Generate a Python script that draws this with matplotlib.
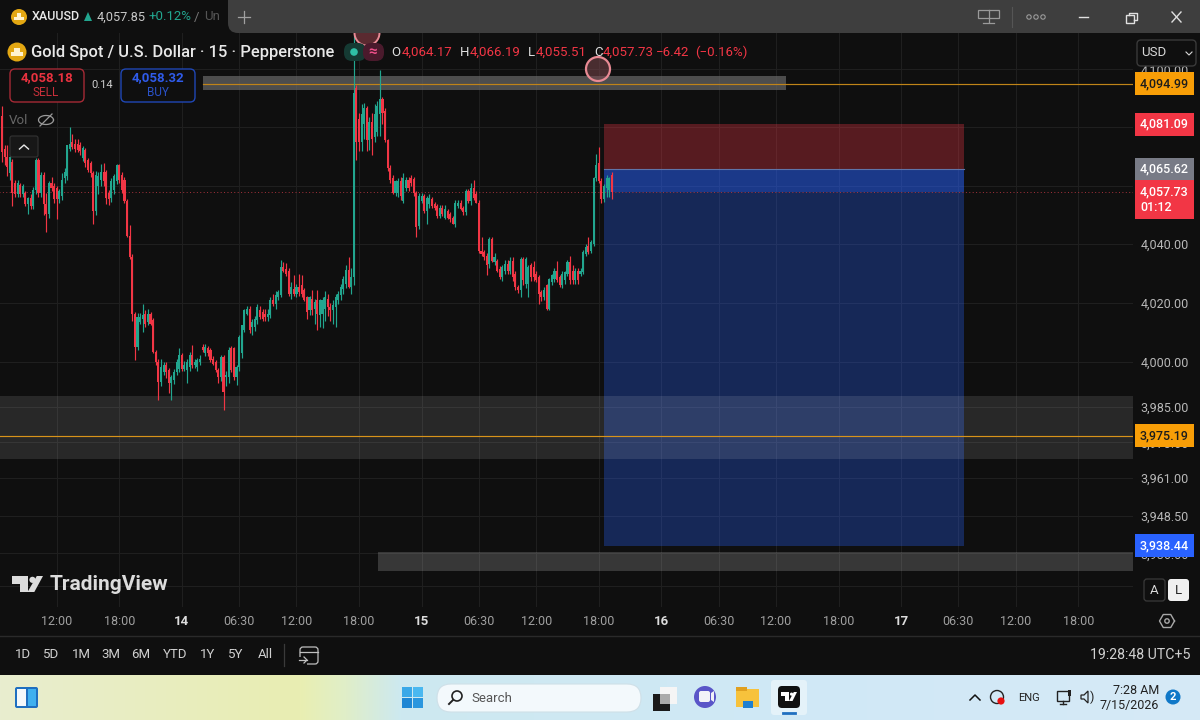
# === XAUUSD 15m TradingView screenshot, redrawn ===
import numpy as np
import matplotlib
matplotlib.use("Agg")
import matplotlib.pyplot as plt
from matplotlib.patches import Circle, FancyBboxPatch, Polygon, Rectangle
from matplotlib.ticker import NullFormatter, NullLocator

plt.rcParams["font.family"] = ["Roboto", "DejaVu Sans"]

# ----------------- DATA -----------------
opens = [
    4084.0, 4072.7, 4069.9, 4064.3, 4068.2, 4060.9, 4057.0, 4060.3, 4057.0, 4057.5,
    4053.6, 4055.8, 4053.0, 4058.6, 4068.8, 4057.5, 4063.7, 4053.6, 4050.2, 4060.9,
    4060.0, 4059.2, 4055.3, 4056.4, 4062.6, 4063.2, 4072.7, 4075.0, 4074.4, 4074.4,
    4073.9, 4069.3, 4072.2, 4068.8, 4067.7, 4064.3, 4051.3, 4059.8, 4062.0, 4064.8,
    4064.8, 4057.5, 4055.8, 4058.6, 4061.5, 4067.1, 4063.7, 4062.0, 4054.7, 4042.9,
    4035.6, 4016.4, 4005.2, 4013.6, 4014.7, 4016.4, 4013.6, 4016.4, 4014.2, 4003.5,
    4000.1, 3993.3, 3996.7, 3999.0, 3997.3, 3992.8, 3993.9, 3996.7, 3997.8, 4002.4,
    3997.8, 3997.3, 3998.4, 4002.4, 3999.0, 3998.4, 4000.1, 4005.2, 4003.0, 4004.6,
    4004.0, 4001.2, 4000.1, 3997.3, 3995.0, 4001.8, 3995.0, 3995.0, 4004.6, 4004.6,
    3995.0, 3998.4, 4002.9, 4010.8, 4016.4, 4018.1, 4011.9, 4011.9, 4014.2, 4017.5,
    4017.0, 4016.4, 4015.3, 4015.9, 4020.9, 4019.8, 4022.0, 4022.6, 4032.2, 4031.6,
    4031.0, 4023.2, 4024.9, 4023.2, 4025.4, 4026.0, 4024.3, 4022.0, 4017.5, 4021.5,
    4018.1, 4020.9, 4015.9, 4016.4, 4018.1, 4021.5, 4018.7, 4017.5, 4018.7, 4020.9,
    4022.6, 4024.9, 4026.6, 4031.3, 4025.4, 4028.8, 4093.6, 4082.9, 4075.0, 4081.2,
    4086.8, 4075.5, 4081.7, 4076.6, 4078.4, 4084.5, 4089.6, 4085.7, 4075.5, 4066.0,
    4062.6, 4057.5, 4057.5, 4061.5, 4054.7, 4059.2, 4062.0, 4062.6, 4062.4, 4057.5,
    4046.3, 4054.7, 4056.4, 4051.3, 4053.6, 4055.3, 4053.6, 4053.0, 4049.6, 4052.5,
    4049.0, 4051.3, 4050.2, 4049.0, 4046.8, 4053.0, 4054.2, 4052.5, 4050.8, 4058.1,
    4054.7, 4059.2, 4057.0, 4054.2, 4037.8, 4037.2, 4036.1, 4033.3, 4041.8, 4033.9,
    4034.4, 4031.6, 4028.8, 4031.0, 4033.3, 4031.0, 4034.4, 4029.9, 4025.4, 4024.3,
    4035.0, 4026.6, 4026.6, 4032.8, 4032.2, 4029.9, 4028.8, 4023.7, 4022.0, 4026.0,
    4018.1, 4027.1, 4028.2, 4031.0, 4028.8, 4026.0, 4027.7, 4029.9, 4033.9, 4031.0,
    4027.7, 4031.0, 4029.9, 4030.5, 4036.7, 4039.5, 4037.8, 4040.0, 4062.6, 4067.7,
    4061.5, 4055.3, 4059.2, 4058.6, 4063.7,
]
highs = [
    4087.4, 4073.9, 4073.9, 4071.0, 4069.0, 4062.0, 4062.0, 4061.0, 4060.5, 4058.0,
    4056.0, 4057.0, 4059.6, 4069.4, 4069.4, 4064.5, 4064.5, 4057.5, 4061.5, 4063.0,
    4061.0, 4060.0, 4059.0, 4064.3, 4066.0, 4074.0, 4080.0, 4077.8, 4076.0, 4076.0,
    4075.0, 4073.5, 4073.0, 4069.5, 4068.5, 4065.0, 4065.0, 4064.5, 4067.5, 4067.7,
    4065.5, 4058.5, 4062.5, 4064.0, 4067.5, 4067.5, 4064.5, 4063.0, 4055.5, 4046.5,
    4036.5, 4017.0, 4016.5, 4016.5, 4019.8, 4017.5, 4018.1, 4017.0, 4015.0, 4004.0,
    4001.0, 4001.2, 4000.0, 4000.0, 3998.0, 3995.5, 3997.5, 4001.0, 4004.6, 4003.0,
    4000.5, 4001.0, 4003.5, 4005.7, 4001.0, 4001.5, 4002.5, 4006.0, 4006.0, 4005.5,
    4004.6, 4002.0, 4000.7, 3998.0, 4002.5, 4002.5, 3997.0, 4005.0, 4005.5, 4005.0,
    3999.0, 4009.0, 4012.5, 4018.0, 4019.0, 4019.0, 4014.5, 4015.5, 4019.5, 4019.0,
    4018.0, 4018.0, 4018.0, 4022.0, 4023.0, 4024.0, 4024.5, 4034.5, 4034.0, 4033.5,
    4032.0, 4027.0, 4029.4, 4026.5, 4030.0, 4029.5, 4025.0, 4022.5, 4022.5, 4024.3,
    4021.5, 4024.3, 4021.5, 4022.0, 4024.0, 4023.0, 4020.0, 4021.0, 4023.0, 4024.0,
    4026.5, 4029.0, 4033.0, 4035.6, 4032.0, 4112.0, 4094.5, 4085.0, 4087.9, 4088.5,
    4087.5, 4083.5, 4085.0, 4087.9, 4089.0, 4099.7, 4090.5, 4086.5, 4076.0, 4067.0,
    4063.5, 4062.0, 4062.5, 4063.0, 4064.3, 4063.0, 4063.0, 4063.5, 4063.0, 4058.0,
    4057.5, 4057.5, 4057.0, 4056.5, 4057.0, 4056.0, 4054.5, 4053.6, 4053.5, 4053.5,
    4053.5, 4052.0, 4051.0, 4049.6, 4055.0, 4055.0, 4055.0, 4053.0, 4059.0, 4059.0,
    4060.9, 4062.0, 4058.0, 4055.0, 4042.3, 4038.0, 4037.0, 4042.5, 4042.5, 4037.0,
    4035.0, 4032.5, 4033.0, 4034.5, 4034.5, 4035.5, 4035.6, 4031.0, 4026.0, 4035.5,
    4035.5, 4035.5, 4033.0, 4033.5, 4034.4, 4031.0, 4029.5, 4024.5, 4025.5, 4026.5,
    4028.5, 4030.0, 4032.0, 4034.4, 4029.5, 4031.0, 4031.0, 4034.5, 4036.0, 4033.0,
    4032.0, 4032.0, 4032.0, 4038.0, 4040.0, 4042.3, 4041.5, 4063.0, 4071.0, 4073.3,
    4062.5, 4060.5, 4063.5, 4063.0, 4064.5,
]
lows = [
    4068.2, 4067.1, 4063.2, 4062.0, 4053.0, 4056.0, 4056.0, 4056.0, 4056.0, 4053.0,
    4050.2, 4052.0, 4052.0, 4057.0, 4056.0, 4056.0, 4050.0, 4044.0, 4049.0, 4058.0,
    4054.0, 4048.5, 4054.0, 4055.0, 4061.0, 4062.0, 4072.0, 4072.5, 4071.5, 4071.5,
    4070.5, 4068.5, 4066.5, 4064.5, 4063.0, 4046.8, 4050.0, 4057.0, 4060.0, 4060.0,
    4053.6, 4053.5, 4054.5, 4057.0, 4060.5, 4061.0, 4057.5, 4054.0, 4042.5, 4035.0,
    4014.0, 4000.7, 4004.0, 4013.0, 4010.0, 4012.0, 4012.5, 4012.5, 4003.0, 3999.0,
    3987.1, 3992.0, 3995.5, 3994.5, 3989.5, 3987.1, 3992.5, 3995.5, 3996.5, 3997.0,
    3997.0, 3993.0, 3997.0, 3998.0, 3998.0, 3997.0, 3999.0, 4003.5, 4002.0, 4002.0,
    4000.0, 3999.0, 3996.5, 3993.0, 3993.5, 3983.8, 3992.0, 3993.0, 3996.5, 3994.0,
    3992.2, 3997.0, 4001.5, 4010.0, 4016.0, 4009.8, 4009.0, 4010.5, 4013.0, 4014.5,
    4013.8, 4014.0, 4014.0, 4015.0, 4019.0, 4018.0, 4021.0, 4022.0, 4030.5, 4029.0,
    4022.5, 4021.5, 4022.5, 4022.0, 4022.5, 4022.0, 4020.5, 4014.7, 4016.0, 4016.0,
    4013.0, 4011.0, 4012.0, 4011.5, 4014.0, 4015.5, 4014.0, 4013.0, 4012.0, 4019.5,
    4021.0, 4023.0, 4025.0, 4025.0, 4023.0, 4026.0, 4068.8, 4072.0, 4072.0, 4076.0,
    4072.0, 4072.2, 4070.5, 4075.0, 4077.0, 4077.0, 4081.0, 4075.0, 4065.0, 4061.0,
    4057.0, 4056.5, 4056.0, 4055.0, 4054.0, 4058.0, 4058.0, 4060.0, 4056.5, 4042.3,
    4045.0, 4054.0, 4050.5, 4046.8, 4052.5, 4052.5, 4051.5, 4049.0, 4049.0, 4049.5,
    4048.5, 4048.5, 4047.5, 4046.8, 4046.0, 4052.5, 4051.5, 4050.0, 4050.0, 4054.0,
    4053.5, 4055.0, 4054.0, 4037.0, 4036.0, 4034.5, 4029.4, 4032.0, 4034.0, 4033.0,
    4030.5, 4028.0, 4027.5, 4030.0, 4030.0, 4030.0, 4027.5, 4024.5, 4023.5, 4022.0,
    4026.0, 4025.0, 4022.0, 4027.5, 4027.5, 4027.0, 4019.8, 4020.5, 4021.0, 4017.5,
    4017.5, 4026.0, 4027.0, 4027.0, 4025.5, 4025.0, 4026.5, 4029.0, 4026.5, 4026.5,
    4026.5, 4026.5, 4029.0, 4030.0, 4036.0, 4036.5, 4037.0, 4039.5, 4061.5, 4061.0,
    4054.2, 4054.5, 4056.0, 4056.0, 4055.3,
]
closes = [
    4071.6, 4069.9, 4066.5, 4069.9, 4057.5, 4057.0, 4060.9, 4057.0, 4059.8, 4053.6,
    4055.8, 4053.0, 4058.6, 4068.8, 4057.5, 4063.7, 4053.6, 4050.2, 4060.9, 4059.2,
    4055.3, 4055.3, 4058.0, 4062.0, 4064.8, 4073.9, 4074.4, 4073.3, 4072.5, 4072.2,
    4071.8, 4072.9, 4067.7, 4065.4, 4064.3, 4051.3, 4063.7, 4063.2, 4064.8, 4061.5,
    4055.8, 4055.3, 4061.5, 4063.2, 4067.1, 4062.0, 4058.6, 4054.7, 4042.9, 4035.6,
    4016.4, 4005.2, 4015.3, 4015.3, 4015.9, 4013.0, 4016.4, 4013.0, 4003.5, 4000.1,
    3993.3, 3998.4, 3999.0, 3996.7, 3992.8, 3995.0, 3996.7, 4000.1, 4002.4, 3997.8,
    3999.0, 4000.1, 4002.4, 3999.0, 4000.1, 4000.7, 4001.2, 4004.0, 4005.2, 4002.9,
    4000.7, 3999.5, 3997.3, 3995.0, 4001.8, 3990.0, 3995.5, 4004.0, 3997.3, 3995.0,
    3998.4, 4008.5, 4012.5, 4017.5, 4018.1, 4010.8, 4013.6, 4014.7, 4018.7, 4015.3,
    4014.7, 4015.3, 4016.4, 4020.9, 4019.8, 4022.6, 4023.7, 4032.2, 4031.0, 4029.9,
    4023.2, 4025.4, 4023.2, 4025.4, 4023.7, 4023.2, 4020.9, 4017.0, 4022.0, 4017.5,
    4020.4, 4016.4, 4020.9, 4020.9, 4022.0, 4018.7, 4017.5, 4019.2, 4022.0, 4023.2,
    4025.4, 4028.2, 4031.3, 4025.4, 4028.8, 4091.9, 4075.0, 4075.0, 4084.5, 4086.8,
    4075.5, 4081.7, 4076.1, 4084.5, 4087.4, 4089.6, 4085.1, 4075.5, 4066.0, 4062.0,
    4057.5, 4061.5, 4061.5, 4056.4, 4062.6, 4062.0, 4059.2, 4060.9, 4057.5, 4045.7,
    4056.4, 4056.4, 4051.3, 4055.8, 4055.8, 4053.0, 4052.5, 4049.6, 4052.5, 4050.2,
    4051.9, 4049.0, 4048.5, 4046.8, 4054.2, 4054.2, 4051.9, 4050.8, 4058.1, 4054.7,
    4059.2, 4055.8, 4054.2, 4037.8, 4036.7, 4035.6, 4032.8, 4041.8, 4034.4, 4035.6,
    4031.0, 4028.8, 4032.2, 4033.3, 4031.0, 4034.4, 4028.8, 4025.4, 4024.3, 4035.0,
    4027.7, 4035.0, 4032.2, 4028.8, 4028.8, 4027.7, 4023.2, 4022.0, 4024.3, 4018.1,
    4028.2, 4029.4, 4031.0, 4027.7, 4026.0, 4029.9, 4030.5, 4033.9, 4027.7, 4027.7,
    4031.0, 4027.7, 4031.0, 4037.2, 4039.0, 4037.2, 4040.6, 4062.6, 4067.1, 4061.5,
    4055.3, 4059.8, 4062.6, 4062.6, 4057.7,
]

# time axis, positions are bar numbers
time_ticks = [21, 45, 69, 91, 113, 137, 161, 183, 205, 229, 253, 275, 297, 321, 345, 367, 389, 413]
time_labels = ["12:00", "18:00", "14", "06:30", "12:00", "18:00", "15", "06:30", "12:00", "18:00",
               "16", "06:30", "12:00", "18:00", "17", "06:30", "12:00", "18:00"]
day_labels = ["14", "15", "16", "17"]

price_ticks = [4100, 4080, 4060, 4040, 4020, 4000, 3985, 3973, 3961, 3948.5, 3936, 3925]
price_labels = ["4,100.00", "4,080.00", "4,060.00", "4,040.00", "4,020.00", "4,000.00",
                "3,985.00", "3,973.00", "3,961.00", "3,948.50", "3,936.00", ""]

last_price = 4057.73
entry_price = 4065.62
stop_price = 4081.09
target_price = 3938.44
upper_level = 4094.99
lower_level = 3975.19

range_buttons = ["1D", "5D", "1M", "3M", "6M", "YTD", "1Y", "5Y", "All"]
range_x = [23, 51, 81, 111, 141, 175, 208, 236, 265]

# ----------------- COLOURS -----------------
BG = "#0f0f0f"
GRID = "#1f1f1f"
UP = "#22a68f"
DOWN = "#f23645"
BLUE = "#2962ff"
ORANGE = "#f89e07"
TICK_TXT = "#b8b8b8"

fig = plt.figure(figsize=(12, 7.2), dpi=100, facecolor=BG)


def pixel_axes(zorder):
    # full-figure axes in screenshot pixels, for the window chrome
    a = fig.add_axes([0, 0, 1, 1], zorder=zorder)
    a.set_xlim(0, 1200)
    a.set_ylim(720, 0)
    a.axis("off")
    a.patch.set_alpha(0)
    return a


back = pixel_axes(0)
ui = pixel_axes(5)

# --- Price chart ---
ax = fig.add_axes([0, (720 - 607) / 720, 1133 / 1200, (607 - 33) / 720], zorder=1, facecolor=BG)
ax.set_yscale("log")
ax.set_xlim(-0.767, 434.0)
ax.set_ylim(3918.2, 4112.6)
ax.yaxis.set_minor_locator(NullLocator())
ax.yaxis.set_minor_formatter(NullFormatter())
ax.yaxis.tick_right()
ax.set_yticks(price_ticks, price_labels)
ax.set_xticks(time_ticks, time_labels)
ax.tick_params(axis="y", length=0, pad=5.5, labelsize=9, labelcolor=TICK_TXT)
ax.tick_params(axis="x", length=0, pad=5.5, labelsize=9, labelcolor="#a0a0a0")
for lab in ax.get_xticklabels():
    if lab.get_text() in day_labels:
        lab.set_color("#dddddd")
        lab.set_fontweight("bold")
        lab.set_fontsize(9.5)
ax.grid(True, color=GRID, lw=0.8)
ax.set_axisbelow(True)
for s in ax.spines.values():
    s.set_visible(False)

# position tool
tool_start, tool_end = 231, 369.2
ax.fill_between([tool_start, tool_end], entry_price, stop_price, color=DOWN, alpha=0.32, lw=0, zorder=2)
ax.fill_between([tool_start, tool_end], target_price, entry_price, color=BLUE, alpha=0.3, lw=0, zorder=2)
ax.fill_between([tool_start, tool_end], last_price, entry_price, color=BLUE, alpha=0.3, lw=0, zorder=2)
ax.plot([tool_start, tool_end], [entry_price, entry_price], color="#5f74a8", lw=0.8, zorder=2.1)

# grey zones and levels
ax.fill_between([77, 301], 4092.9, 4097.7, color="#666666", alpha=0.72, lw=0, zorder=2.2)
ax.fill_between([-1, 434], 3967.4, 3988.5, color="#ffffff", alpha=0.105, lw=0, zorder=2.2)
ax.fill_between([144.3, 434], 3930.1, 3936.4, color="#ffffff", alpha=0.17, lw=0, zorder=2.2)
ax.plot([77, 434], [upper_level, upper_level], color="#c08418", lw=0.85, zorder=2.3)
ax.plot([-1, 434], [lower_level, lower_level], color="#d8931a", lw=0.85, zorder=2.3)
ax.plot([-1, 434], [last_price, last_price], color="#a8323c", lw=0.7, ls=(0, (1, 2.5)), zorder=2.3)

# candles
opens_a, highs_a, lows_a, closes_a = map(np.array, (opens, highs, lows, closes))
bars = np.arange(len(opens_a))
colors = np.where(closes_a >= opens_a, UP, DOWN)
ax.vlines(bars, lows_a, highs_a, colors=colors, lw=0.85, zorder=3)
ax.bar(bars, np.abs(closes_a - opens_a), bottom=np.minimum(opens_a, closes_a), width=0.8,
       color=colors, lw=0, zorder=3.1)

# price badges on the scale
trans = ax.get_yaxis_transform()


def badge(price, txt, face, color="white"):
    ax.text(1140 / 1133, price, txt, transform=trans, color=color, fontsize=9, fontweight="medium",
            va="center", ha="left", zorder=6, linespacing=1.3,
            bbox=dict(boxstyle="square,pad=0.4", fc=face, ec="none"))


badge(upper_level, "4,094.99", ORANGE, "#1c1c1c")
badge(stop_price, "4,081.09", DOWN)
badge(entry_price, "4,065.62", "#787b86")
badge(last_price - 2.6, "4,057.73\n01:12", DOWN)
badge(lower_level, "3,975.19", ORANGE, "#1c1c1c")
badge(target_price, "3,938.44", BLUE)

# --- Window chrome behind and over the chart ---
back.add_patch(Rectangle((0, 0), 1200, 33, fc=BG, ec="none"))
ui.add_patch(FancyBboxPatch((236, -20), 980, 45, boxstyle="round,pad=8,rounding_size=10", fc="#3e3e3e", ec="none"))
ui.plot([0, 1200], [636, 636], color="#2a2a2a", lw=1)


def gold_icon(x, y, r):
    ui.add_patch(Circle((x, y), r, fc="#e3a712", ec="none"))
    for dx, dy in [(-r * 0.32, r * 0.2), (r * 0.32, r * 0.2), (0, -r * 0.25)]:
        ui.add_patch(Rectangle((x + dx - r * 0.3, y + dy - r * 0.2), r * 0.6, r * 0.4, fc="#fff3cf", ec="none"))


def rbox(x, y, w, h, r=3, fc="none", ec="none", lw=1):
    ui.add_patch(FancyBboxPatch((x + r, y + r), w - 2 * r, h - 2 * r, boxstyle=f"round,pad={r},rounding_size={r}",
                                fc=fc, ec=ec, lw=lw))


def tv_mark(x, y, w, h, color):
    # the T-dot-slash logo, x/y top-left
    def pts(p):
        return [[x + a * w, y + b * h] for a, b in p]
    ui.add_patch(Polygon(pts([(0, 0), (0.52, 0), (0.52, 1), (0.26, 1), (0.26, 0.48), (0, 0.48)]), fc=color, ec="none"))
    ui.add_patch(Circle((x + 0.66 * w, y + 0.24 * h), 0.1 * w, fc=color, ec="none"))
    ui.add_patch(Polygon(pts([(0.8, 0), (1, 0), (0.72, 1), (0.5, 1)]), fc=color, ec="none"))


# tab row
gold_icon(19, 17, 8)
ui.text(32, 17, "XAUUSD", color="#e8e8e8", fontsize=9, fontweight="medium", va="center")
ui.add_patch(Polygon([[84, 21], [92, 21], [88, 12]], fc=UP, ec="none"))
ui.text(97, 17, "4,057.85", color="#c8c8c8", fontsize=9.2, va="center")
ui.text(149, 17, "+0.12%", color=UP, fontsize=9.5, va="center")
ui.text(194, 17, "/", color="#777777", fontsize=9.5, va="center")
ui.text(204, 17, "Un", color="#555555", fontsize=9.5, va="center")
ui.plot([244, 244], [11, 23], color="#a0a0a0", lw=0.9)
ui.plot([238, 250], [17, 17], color="#a0a0a0", lw=0.9)

# window buttons
ui.add_patch(Rectangle((978, 10), 21, 8, fc="none", ec="#9a9a9a", lw=0.9))
ui.plot([988.5, 988.5], [10, 22], color="#9a9a9a", lw=0.9)
ui.plot([983, 994], [22.5, 22.5], color="#9a9a9a", lw=0.9)
ui.plot([1012, 1012], [7, 27], color="#555555", lw=0.8)
for cx in [1029, 1036, 1043]:
    ui.add_patch(Circle((cx, 17), 2.2, fc="none", ec="#9a9a9a", lw=0.8))
ui.plot([1079, 1088], [17, 17], color="#e0e0e0", lw=1)
ui.add_patch(Rectangle((1126, 15), 8, 8, fc="none", ec="#e0e0e0", lw=1))
ui.plot([1129, 1129, 1136.5, 1136.5, 1134], [15, 12.5, 12.5, 20, 20], color="#e0e0e0", lw=1)
ui.plot([1172, 1181], [12, 22], color="#e0e0e0", lw=1)
ui.plot([1172, 1181], [22, 12], color="#e0e0e0", lw=1)

# chart legend row
marker_top = Circle((367, 33), 12.5, fc="#5a2a30", ec="#e78a94", lw=1.4)
ui.add_patch(marker_top)
marker_top.set_clip_path(Rectangle((340, 33), 54, 20, transform=ui.transData))
gold_icon(17, 52, 9.5)
ui.text(31, 52.5, "Gold Spot / U.S. Dollar · 15 · Pepperstone", color="#e8e8e8", fontsize=11.9,
        fontweight="medium", va="center")
rbox(344, 43, 22, 18, r=8, fc="#153a33")
rbox(363, 43, 21, 18, r=8, fc="#4a1a2c")
ui.add_patch(Circle((354, 52), 3.8, fc="#2fbfa5", ec="none"))
ui.text(373, 52, "≈", color="#f0508a", fontsize=11, fontweight="bold", va="center", ha="center")
for x, t, c in [(391, "O", "#e0e0e0"), (402, "4,064.17", DOWN), (460, "H", "#e0e0e0"), (470, "4,066.19", DOWN),
                (528, "L", "#e0e0e0"), (536, "4,055.51", DOWN), (594, "C", "#e0e0e0"), (603, "4,057.73", DOWN),
                (656, "−6.42", DOWN), (695, "(−0.16%)", DOWN)]:
    ui.text(x, 52, t, color=c, fontsize=9.5, va="center")

# sell / buy
rbox(10, 69, 74, 33, r=5, fc=BG, ec="#a52a35", lw=1)
rbox(121, 69, 74, 33, r=5, fc=BG, ec="#1f47b5", lw=1)
ui.text(47, 78, "4,058.18", color="#e8323f", fontsize=9.5, fontweight="bold", ha="center", va="center")
ui.text(46, 92.5, "SELL", color="#c9303b", fontsize=8.5, ha="center", va="center")
ui.text(158, 78, "4,058.32", color="#2f5bea", fontsize=9.5, fontweight="bold", ha="center", va="center")
ui.text(158, 92.5, "BUY", color="#2a52c9", fontsize=8.5, ha="center", va="center")
ui.text(102, 85.5, "0.14", color="#d0d0d0", fontsize=8, ha="center", va="center")

# Vol row
ui.text(9, 120.5, "Vol", color="#666666", fontsize=9.5, va="center")
theta = np.linspace(0, 2 * np.pi, 40)
ui.plot(46 + 7.5 * np.cos(theta), 120 + 4.5 * np.sin(theta), color="#9a9a9a", lw=0.9)
ui.plot([40, 52], [126, 114], color="#9a9a9a", lw=0.9)
rbox(10, 136, 28, 21, r=2, fc="#171717", ec="#333333", lw=0.8)
ui.plot([19.5, 24, 28.5], [149, 145, 149], color="#e8e8e8", lw=1)

# pink circle on the top zone
ui.add_patch(Circle((598, 69), 12, fc=(0.48, 0.28, 0.3, 0.55), ec="#e88a94", lw=1.6))

# USD box and scale buttons
rbox(1137, 40, 59, 26, r=4, fc=BG, ec="#3a3a3a", lw=1)
ui.text(1141, 53, "USD", color="#d8d8d8", fontsize=9.5, va="center")
ui.plot([1186, 1189, 1192], [52, 55, 52], color="#d8d8d8", lw=0.8)
rbox(1144, 579, 21, 22, r=3, fc=BG, ec="#3a3a3a", lw=0.9)
rbox(1168, 579, 21, 22, r=3, fc="#f0f0f0")
ui.text(1154.5, 590.5, "A", color="#d8d8d8", fontsize=9.5, ha="center", va="center")
ui.text(1178.5, 590.5, "L", color="#222222", fontsize=9.5, ha="center", va="center")
hex_t = np.radians(np.arange(0, 361, 60))
ui.plot(1167 + 7.5 * np.cos(hex_t), 621 + 7.5 * np.sin(hex_t), color="#a8a8a8", lw=1)
ui.add_patch(Circle((1167, 621), 2.2, fc="none", ec="#a8a8a8", lw=1))

# TradingView mark
tv_mark(12, 576, 31, 16, "#dcdcdc")
ui.text(50, 584, "TradingView", color="#dcdcdc", fontsize=15, fontweight="bold", va="center")

# range buttons
for x, t in zip(range_x, range_buttons):
    ui.text(x, 655, t, color="#d0d0d0", fontsize=9.5, ha="center", va="center")
ui.plot([284, 284], [644, 666], color="#3a3a3a", lw=0.9)
rbox(300, 647, 18, 17, r=3, ec="#c0c0c0", lw=0.9)
ui.add_patch(Rectangle((298, 657), 9, 9, fc=BG, ec="none"))
ui.plot([299, 307], [660, 660], color="#c0c0c0", lw=0.9)
ui.plot([304, 307, 304], [657, 660, 663], color="#c0c0c0", lw=0.9)
ui.plot([300, 318], [652, 652], color="#c0c0c0", lw=0.9)
ui.text(1190, 655, "19:28:48 UTC+5", color="#d0d0d0", fontsize=10.2, ha="right", va="center")

# --- Taskbar ---
stops = [0, 300, 345, 400, 800, 1200]
tones = np.array([[232, 237, 207], [233, 238, 178], [224, 238, 200], [205, 233, 240], [208, 232, 246], [214, 234, 246]]) / 255
xs = np.arange(1200)
strip = np.stack([np.interp(xs, stops, tones[:, k]) for k in range(3)], axis=1)[None, :, :]
ui.imshow(strip, extent=(0, 1200, 720, 675), aspect="auto", zorder=0.5)
ui.set_xlim(0, 1200)
ui.set_ylim(720, 0)

# widgets icon
rbox(15, 687, 23, 21, r=2, fc="#1f6fc0")
ui.add_patch(Rectangle((17, 689), 9, 17, fc="#f4f8fb", ec="none"))
ui.add_patch(Rectangle((28, 689), 8, 17, fc="#3fb0ef", ec="none"))
# start button
for sx, sy, c in [(402, 687, "#3aa8e8"), (413, 687, "#4ab8f0"), (402, 698, "#1d86d4"), (413, 698, "#2a96de")]:
    ui.add_patch(Rectangle((sx, sy), 10, 10, fc=c, ec="none"))
# search
rbox(437, 684, 204, 28, r=14, fc="#f3f9fc", ec="#cfe0e8", lw=0.8)
ui.add_patch(Circle((457, 696), 5, fc="none", ec="#222222", lw=1.2))
ui.plot([453, 449], [700, 704], color="#222222", lw=1.4)
ui.text(471, 698, "Search", color="#555555", fontsize=9.5, va="center")
# task view, meet, folder, tradingview
ui.add_patch(Rectangle((660, 687), 17, 17, fc="#f5f5f5", ec="none"))
ui.add_patch(Rectangle((653, 694), 17, 17, fc="#1a1a1a", ec="none"))
ui.add_patch(Rectangle((660, 694), 10, 10, fc="#aaaaaa", ec="none"))
ui.add_patch(Circle((705, 697), 11, fc="#5a55c8", ec="none"))
rbox(699, 691, 11, 11, r=2, fc="#f2f2f8")
ui.add_patch(Polygon([[711, 693], [714, 691], [714, 702], [711, 700]], fc="#f2f2f8", ec="none"))
ui.add_patch(Rectangle((736, 689), 23, 18, fc="#f7c23c", ec="none"))
ui.add_patch(Rectangle((736, 687), 11, 4, fc="#e0a020", ec="none"))
ui.add_patch(Rectangle((743, 701), 10, 7, fc="#2080d0", ec="none"))
rbox(771, 680, 36, 35, r=3, fc="#e4f2f9")
rbox(778, 686, 22, 22, r=4, fc="#111111")
tv_mark(781, 692, 16, 9, "white")
ui.plot([783, 795], [713, 713], color="#1f6fc0", lw=2)
# tray
ui.plot([970, 975, 980], [700, 695, 700], color="#111111", lw=1.1)
ui.add_patch(Circle((997, 697), 6.5, fc="none", ec="#222222", lw=1))
ui.add_patch(Circle((1001, 701), 3.6, fc="#e81010", ec="none"))
ui.text(1029, 698, "ENG", color="#222222", fontsize=8, ha="center", va="center")
ui.add_patch(Rectangle((1057, 691), 12, 10, fc="none", ec="#222222", lw=1))
ui.plot([1060, 1066], [704, 704], color="#222222", lw=1)
ui.plot([1063, 1063], [701, 704], color="#222222", lw=1)
ui.add_patch(Rectangle((1068, 690), 3, 6, fc="#222222", ec="none"))
ui.add_patch(Polygon([[1081, 695], [1084, 695], [1088, 691], [1088, 703], [1084, 699], [1081, 699]],
                     fc="none", ec="#222222", lw=0.9))
ui.text(1092, 697, ")", color="#222222", fontsize=9, ha="center", va="center")
ui.text(1159, 690, "7:28 AM", color="#222222", fontsize=9, ha="right", va="center")
ui.text(1159, 705, "7/15/2026", color="#222222", fontsize=9, ha="right", va="center")
ui.add_patch(Circle((1173, 697), 7.5, fc="#0f78c8", ec="none"))
ui.text(1173, 697, "2", color="white", fontsize=8, fontweight="bold", ha="center", va="center")

fig.savefig("out.png", dpi=100, facecolor=fig.get_facecolor())
